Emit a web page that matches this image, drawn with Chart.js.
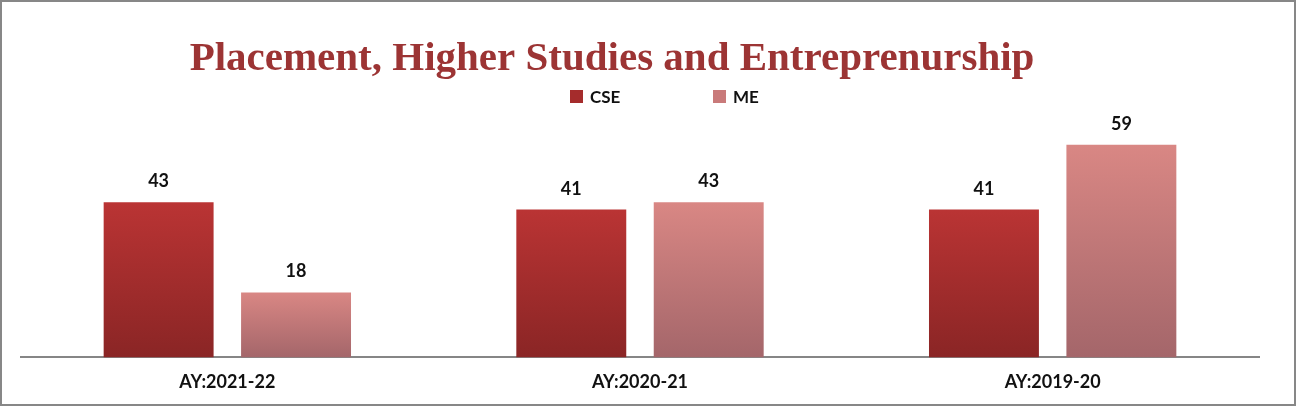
<!DOCTYPE html>
<html>
<head>
<meta charset="utf-8">
<script src="https://cdn.jsdelivr.net/npm/chart.js@4.4.0/dist/chart.umd.min.js"></script>
<style>
  html, body { margin: 0; padding: 0; background: #ffffff; }
  #wrap { width: 1297px; height: 407px; position: relative; }
  canvas { display: block; }
</style>
</head>
<body>
<div id="wrap"><canvas id="c" width="1297" height="407"></canvas></div>
<script>
const chartTitle = "Placement, Higher Studies and Entreprenurship";
const categories = ["AY:2021-22", "AY:2020-21", "AY:2019-20"];
const seriesNames = ["CSE", "ME"];
const cseValues = [43, 41, 41];
const meValues = [18, 43, 59];

const palette = {
  CSE: { top: "#ba3434", bottom: "#8a2525", legend: "#a52c2c" },
  ME:  { top: "#d98784", bottom: "#a4666a", legend: "#c97a7a" }
};

const labelFont = "Lato, 'Open Sans', sans-serif";

function gradientFor(key) {
  return function (ctx) {
    const chart = ctx.chart;
    const c = palette[key];
    if (!chart.chartArea || ctx.type !== 'data') return c.top;
    const ys = chart.scales.y;
    const v = ctx.raw;
    const top = ys.getPixelForValue(v);
    const base = ys.getPixelForValue(0);
    const g = chart.ctx.createLinearGradient(0, top, 0, base);
    g.addColorStop(0, c.top);
    g.addColorStop(1, c.bottom);
    return g;
  };
}

const decorPlugin = {
  id: 'decor',
  beforeDraw(chart) {
    const ctx = chart.ctx;
    ctx.save();
    ctx.fillStyle = '#ffffff';
    ctx.fillRect(0, 0, chart.width, chart.height);
    ctx.restore();
  },
  afterDatasetsDraw(chart) {
    const ctx = chart.ctx;
    ctx.save();
    ctx.font = "bold 18px " + labelFont;
    ctx.fillStyle = '#111111';
    ctx.textAlign = 'center';
    ctx.textBaseline = 'alphabetic';
    chart.data.datasets.forEach((ds, di) => {
      const meta = chart.getDatasetMeta(di);
      meta.data.forEach((bar, i) => {
        ctx.fillText(String(ds.data[i]), bar.x, bar.y - 15);
      });
    });
    ctx.restore();
  },
  afterDraw(chart) {
    const ctx = chart.ctx;
    ctx.save();
    // title
    ctx.font = "bold 41px 'Liberation Serif', 'Times New Roman', serif";
    ctx.fillStyle = '#9c3434';
    ctx.textAlign = 'center';
    ctx.textBaseline = 'alphabetic';
    ctx.fillText(chartTitle, 612, 70);
    // legend
    const items = [
      { name: seriesNames[0], color: palette.CSE.legend, x: 570 },
      { name: seriesNames[1], color: palette.ME.legend, x: 713 }
    ];
    ctx.font = "bold 17px " + labelFont;
    ctx.textAlign = 'left';
    items.forEach(it => {
      ctx.fillStyle = it.color;
      ctx.fillRect(it.x, 90, 13, 13);
      ctx.fillStyle = '#111111';
      ctx.fillText(it.name, it.x + 20, 103);
    });
    // outer border
    ctx.strokeStyle = '#878787';
    ctx.lineWidth = 2;
    ctx.strokeRect(1, 1, chart.width - 3, chart.height - 3);
    ctx.restore();
  }
};

new Chart(document.getElementById('c'), {
  type: 'bar',
  data: {
    labels: categories,
    datasets: [
      { label: seriesNames[0], data: cseValues, backgroundColor: gradientFor('CSE'), borderWidth: 0 },
      { label: seriesNames[1], data: meValues, backgroundColor: gradientFor('ME'), borderWidth: 0 }
    ]
  },
  options: {
    responsive: false,
    animation: false,
    devicePixelRatio: 1,
    layout: { padding: { left: 21, right: 38, top: 105, bottom: 0 } },
    plugins: {
      legend: { display: false },
      title: { display: false },
      tooltip: { enabled: false }
    },
    datasets: { bar: { categoryPercentage: 0.666, barPercentage: 0.8 } },
    scales: {
      x: {
        grid: { display: false, drawTicks: false },
        border: { display: true, color: '#868686', width: 2 },
        ticks: { color: '#111111', font: { family: labelFont, size: 18, weight: 'bold' }, padding: 14 }
      },
      y: {
        display: false,
        min: 0,
        max: 70
      }
    }
  },
  plugins: [decorPlugin]
});
</script>
</body>
</html>
